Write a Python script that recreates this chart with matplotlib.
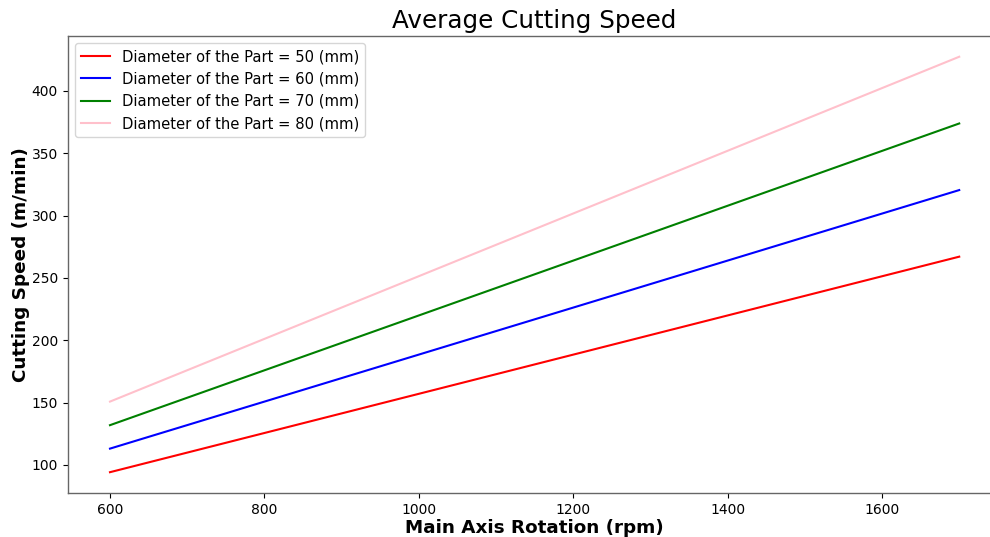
import matplotlib
matplotlib.use('Agg')
import matplotlib.pyplot as plt

rpm = [600, 1700]
speed_50 = [94.2, 267.0]
speed_60 = [113.1, 320.4]
speed_70 = [131.9, 373.8]
speed_80 = [150.8, 427.3]
diameters = [50, 60, 70, 80]
colors = ['red', 'blue', 'green', 'pink']

fig = plt.figure(figsize=(9.9, 5.37), dpi=100)
ax = fig.add_axes([0.0682, 0.082, 0.9436, 0.851])

for d, s, c in zip(diameters, [speed_50, speed_60, speed_70, speed_80], colors):
    ax.plot(rpm, s, color=c, label='Diameter of the Part = ' + str(d) + ' (mm)')

ax.set_title('Average Cutting Speed', fontsize=17.7)
ax.set_xlabel('Main Axis Rotation (rpm)', fontsize=13.2, fontweight='bold', labelpad=2)
ax.set_ylabel('Cutting Speed (m/min)', fontsize=13.2, fontweight='bold', labelpad=1)
for sp in ax.spines.values():
    sp.set_color('0.4')
    sp.set_linewidth(1.0)
ax.legend(loc='upper left', fontsize=10.6)

fig.savefig('out.png', dpi=100)
